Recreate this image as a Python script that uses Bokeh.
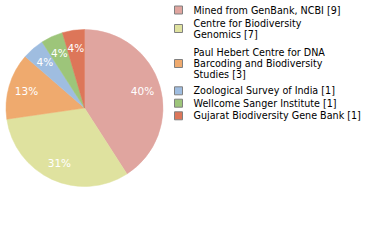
import math
from bokeh.plotting import figure
from bokeh.models import ColumnDataSource, Range1d
from bokeh.core.properties import value
from bokeh.embed import file_html
from bokeh.resources import INLINE

categories = ["Mined from GenBank, NCBI", "Centre for Biodiversity Genomics",
              "Paul Hebert Centre for DNA Barcoding and Biodiversity Studies",
              "Zoological Survey of India", "Wellcome Sanger Institute",
              "Gujarat Biodiversity Gene Bank"]
counts = [9, 7, 3, 1, 1, 1]
legend_lines = [["Mined from GenBank, NCBI [9]"],
                ["Centre for Biodiversity", "Genomics [7]"],
                ["Paul Hebert Centre for DNA", "Barcoding and Biodiversity", "Studies [3]"],
                ["Zoological Survey of India [1]"],
                ["Wellcome Sanger Institute [1]"],
                ["Gujarat Biodiversity Gene Bank [1]"]]
colors = ["#e0a59f", "#dfe29f", "#efaa6e", "#9fbde0", "#9dc57a", "#dd7659"]

W, H = 380, 240
p = figure(width=W, height=H, output_backend="svg", toolbar_location=None,
           x_range=Range1d(0, W), y_range=Range1d(0, H), min_border=0)
p.axis.visible = False
p.grid.visible = False
p.outline_line_color = None
p.background_fill_color = "white"

cx, cy, r = 84, H - 107.5, 78.5
total = sum(counts)
starts, ends, lx, ly, labels = [], [], [], [], []
cum = 0.0
for c in counts:
    a0 = math.pi / 2 - 2 * math.pi * (cum + c) / total
    a1 = math.pi / 2 - 2 * math.pi * cum / total
    starts.append(a0)
    ends.append(a1)
    mid = (a0 + a1) / 2
    lx.append(cx + 0.77 * r * math.cos(mid))
    ly.append(cy + 0.77 * r * math.sin(mid))
    labels.append("%d%%" % int(c * 100 // total))
    cum += c

src = ColumnDataSource(dict(start=starts, end=ends, color=colors))
p.wedge(x=cx, y=cy, radius=r, start_angle="start", end_angle="end",
        fill_color="color", line_color="color", line_width=0.5, source=src)
p.text(x=lx, y=ly, text=labels, text_color="white", text_align="center",
       text_baseline="middle", text_font=value("DejaVu Sans"), text_font_size="10.5px")

# legend layout (pixel offsets from top)
entry_centers = [9.5, 28, 63, 90.3, 102.7, 115.3]
line_h = 11
tx, ty, tt = [], [], []
for lines, ec in zip(legend_lines, entry_centers):
    n = len(lines)
    for i, t in enumerate(lines):
        tx.append(193)
        ty.append(H - (ec + (i - (n - 1) / 2) * line_h))
        tt.append(t)
p.rect(x=[178] * len(counts), y=[H - e for e in entry_centers], width=8, height=8,
       fill_color=colors, line_color="#808080", line_width=1)
p.text(x=tx, y=ty, text=tt, text_color="black", text_align="left",
       text_baseline="middle", text_font=value("DejaVu Sans"), text_font_size="9.6px")

open("out.html", "w").write(file_html(p, INLINE))
